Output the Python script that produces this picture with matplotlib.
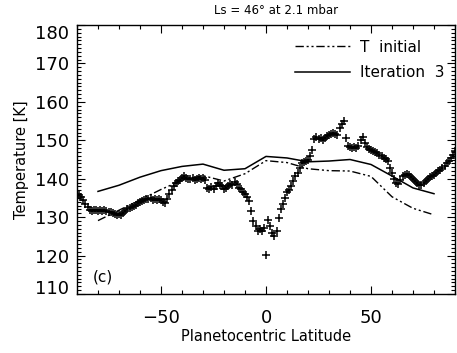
import matplotlib
matplotlib.use("Agg")
import matplotlib.pyplot as plt
from matplotlib.ticker import MultipleLocator

# Model profiles (every 10 deg latitude)
model_lat = [-80, -70, -60, -50, -40, -30, -20, -10, 0, 10, 20, 30, 40, 50, 60, 70, 80]
t_initial = [129.1, 131.8, 134.5, 137.2, 139.6, 140.8, 139.4, 141.3, 144.7, 144.2,
             142.6, 142.1, 142.0, 140.6, 135.3, 132.3, 130.6]
iteration3 = [136.7, 138.3, 140.4, 142.1, 143.2, 143.8, 142.2, 142.6, 145.8, 145.4,
              144.4, 144.6, 145.0, 143.7, 140.7, 137.6, 136.1]

# Retrieved temperatures (+ symbols)
obs_lat = list(range(-90, 91))
obs_t = [136.0, 135.8, 135.3, 134.5, 133.5, 132.6, 131.8, 131.5, 131.8, 131.9,
         131.7, 131.9, 131.6, 131.8, 131.5, 131.3, 131.4, 131.0, 130.8, 130.5,
         130.9, 130.6, 131.2, 131.7, 132.0, 132.3, 132.7, 133.0, 133.2, 133.6,
         134.0, 134.3, 134.5, 134.8, 134.6, 134.9, 134.5, 134.7, 134.4, 134.8,
         134.5, 134.0, 133.6, 134.6, 136.0, 137.0, 138.0, 138.8, 139.3, 139.7,
         140.3, 140.6, 140.2, 140.0, 139.8, 140.1, 139.7, 139.9, 140.2, 140.0,
         140.3, 139.6, 137.6, 137.4, 137.8, 137.4, 138.0, 138.8, 138.4, 138.0,
         137.4, 137.5, 138.2, 138.5, 138.4, 139.2, 138.6, 137.6, 137.2, 136.5,
         136.0, 135.2, 134.2, 131.5, 129.0, 127.6, 126.3, 127.0, 126.5, 127.2,
         120.2, 129.3, 127.6, 126.0, 125.0, 126.5, 129.8, 132.0, 133.5, 135.0,
         136.5, 137.0, 138.0, 139.5, 140.8, 141.5, 142.8, 144.0, 144.4, 144.7,
         144.9, 145.8, 147.5, 150.3, 150.8, 150.4, 150.6, 150.2, 150.7, 151.0,
         151.4, 151.7, 151.9, 151.7, 151.5, 153.3, 154.2, 155.0, 150.6, 148.5,
         148.3, 148.0, 148.2, 148.0, 148.4, 150.0, 150.8, 149.4, 148.3, 147.8,
         147.4, 147.2, 146.9, 146.6, 146.3, 145.8, 145.5, 145.2, 144.6, 142.8,
         141.6, 139.8, 138.9, 138.5, 139.6, 140.6, 141.0, 141.3, 141.0, 140.5,
         140.0, 139.5, 138.8, 138.4, 138.3, 138.9, 139.5, 140.0, 140.5, 140.8,
         141.0, 141.5, 142.0, 142.3, 142.8, 143.4, 144.0, 144.6, 145.4, 146.3,
         147.3]

plt.rcParams['font.family'] = ['DejaVu Sans']

fig = plt.figure(figsize=(4.57, 3.53), dpi=100)
ax = fig.add_axes([77/457, 1-294/353, 378/457, 269/353])

ax.plot(obs_lat, obs_t, linestyle='none', marker='+', color='black',
        markersize=6, markeredgewidth=1.1)
ax.plot(model_lat, t_initial, color='black', linewidth=1.0,
        dashes=(6, 2, 1.5, 2, 1.5, 2), label='T  initial')
ax.plot(model_lat, iteration3, color='black', linewidth=1.1, label='Iteration  3')

ax.set_xlim(-90, 90)
ax.set_ylim(110, 180)
ax.xaxis.set_major_locator(MultipleLocator(50))
ax.xaxis.set_minor_locator(MultipleLocator(10))
ax.yaxis.set_major_locator(MultipleLocator(10))
ax.yaxis.set_minor_locator(MultipleLocator(1))
ax.tick_params(which='both', direction='in', top=True, right=True, width=0.8)
ax.tick_params(which='major', length=6)
ax.tick_params(which='minor', length=3)
ax.tick_params(axis='x', which='major', labelsize=13, pad=11)
ax.tick_params(axis='y', which='major', labelsize=13, pad=6)
for s in ax.spines.values():
    s.set_linewidth(1.0)

ax.set_xlabel('Planetocentric Latitude', fontsize=10.5, labelpad=1)
ax.set_ylabel('Temperature [K]', fontsize=10.5, labelpad=4)
fig.text(276/457, 1-10/353, 'Ls = 46° at 2.1 mbar', fontsize=8.5,
         ha='center', va='center')
ax.text(0.042, 0.065, '(c)', transform=ax.transAxes, fontsize=11,
        ha='left', va='center')

ax.legend(loc='upper left', bbox_to_anchor=(0.577, 0.945), frameon=False,
          fontsize=11, handlelength=3.6, handletextpad=0.65,
          labelspacing=0.7, borderpad=0, borderaxespad=0)

# keep end labels inside the axis span, as in the reference
fig.canvas.draw()
for t in ax.yaxis.get_major_ticks():
    v = t.get_loc()
    if abs(v - 180) < 1e-6:
        t.label1.set_verticalalignment('top')
    elif abs(v - 110) < 1e-6:
        t.label1.set_verticalalignment('baseline')

fig.savefig('out.png', dpi=100)
